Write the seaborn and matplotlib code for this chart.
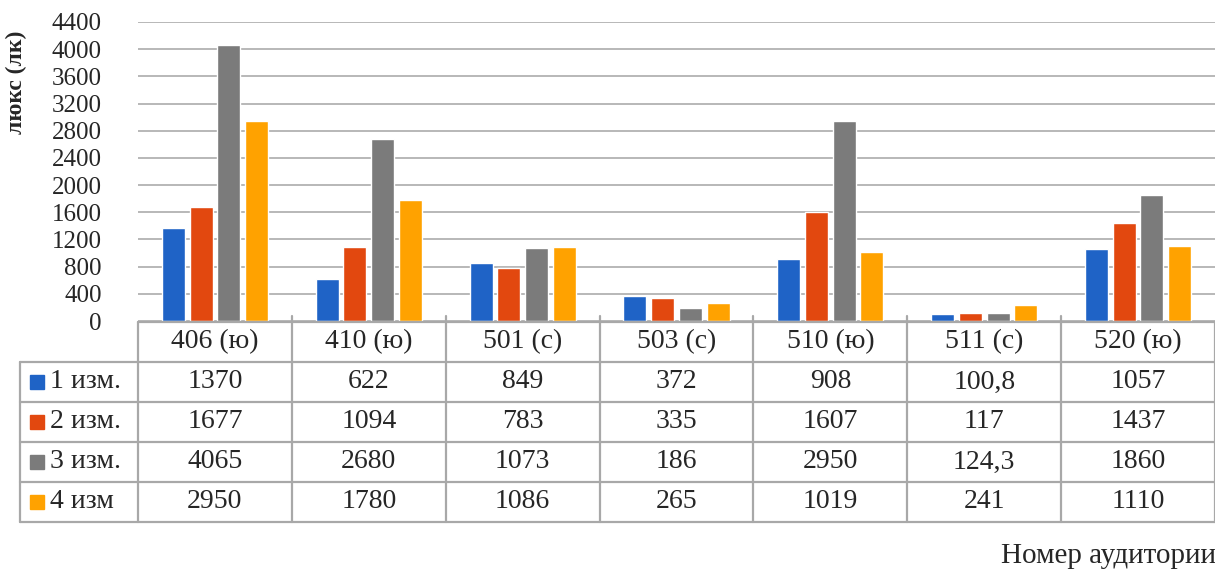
import matplotlib
matplotlib.use("Agg")
import matplotlib.pyplot as plt
import seaborn as sns
import pandas as pd
from matplotlib.patches import Rectangle

# data
rooms = ["406 (ю)", "410 (ю)", "501 (с)", "503 (с)", "510 (ю)", "511 (с)", "520 (ю)"]
series = ["1 изм.", "2 изм.", "3 изм.", "4 изм"]
izm1 = [1370, 622, 849, 372, 908, 100.8, 1057]
izm2 = [1677, 1094, 783, 335, 1607, 117, 1437]
izm3 = [4065, 2680, 1073, 186, 2950, 124.3, 1860]
izm4 = [2950, 1780, 1086, 265, 1019, 241, 1110]
colors = ["#1f63c6", "#e2480f", "#7b7b7b", "#ffa200"]
yticks = list(range(0, 4401, 400))

values = [izm1, izm2, izm3, izm4]
rows = []
for s, vals in zip(series, values):
    for r, v in zip(rooms, vals):
        rows.append({"room": r, "series": s, "lux": v})
df = pd.DataFrame(rows)

def fmt(v):
    if float(v).is_integer():
        return str(int(v))
    return str(v).replace(".", ",")

sns.set_style("white")
plt.rcParams["font.family"] = ["Liberation Serif", "DejaVu Serif"]

W, H = 1215, 572
fig = plt.figure(figsize=(W / 100, H / 100), dpi=100)

x0, x1 = 138, 1215
ytop, ybot = 22, 321
ax = fig.add_axes([x0 / W, 1 - ybot / H, (x1 - x0) / W, (ybot - ytop) / H])
sns.barplot(data=df, x="room", y="lux", hue="series", palette=colors,
            saturation=1, width=0.72, gap=0.17, ax=ax, legend=False, zorder=3)
ax.set_xlim(-0.5, len(rooms) - 0.5)
ax.set_ylim(0, 4400)
ax.set_yticks(yticks)
ax.set_yticklabels([str(t) for t in yticks], fontsize=18)
ax.tick_params(axis="y", length=0, pad=26)
ax.set_xticks([])
ax.set_xlabel("")
ax.set_ylabel("")
ax.yaxis.grid(True, color="#b8b8b8", linewidth=1.4, zorder=0)
ax.set_axisbelow(True)
for sp in ax.spines.values():
    sp.set_visible(False)

fig.text(16 / W, 1 - 82 / H, "люкс (лк)", rotation=90, fontsize=17,
         fontweight="bold", ha="center", va="center")

# data table under the chart
tb = fig.add_axes([0, 0, 1, 1], facecolor="none")
tb.set_xlim(0, W)
tb.set_ylim(H, 0)
tb.axis("off")

line_c = "#a8a8a8"
lw = 1.6
col_w = (x1 - x0) / len(rooms)
row_y = [322, 362, 402, 442, 482, 522]
leg_x = 20

# horizontal lines
tb.plot([x0, x1], [row_y[0], row_y[0]], color=line_c, lw=lw)
for y in row_y[1:]:
    tb.plot([leg_x, x1], [y, y], color=line_c, lw=lw)
# vertical lines
tb.plot([leg_x, leg_x], [row_y[1], row_y[-1]], color=line_c, lw=lw)
for i in range(len(rooms) + 1):
    xx = x0 + i * col_w
    tb.plot([xx, xx], [row_y[0] - (6 if 0 < i < len(rooms) else 0), row_y[-1]],
            color=line_c, lw=lw)

for i, r in enumerate(rooms):
    cx = x0 + (i + 0.5) * col_w
    tb.text(cx, (row_y[0] + row_y[1]) / 2, r, ha="center", va="center", fontsize=20)

for j, (s, vals, c) in enumerate(zip(series, values, colors)):
    cy = (row_y[j + 1] + row_y[j + 2]) / 2
    tb.add_patch(Rectangle((30, cy - 7), 14, 14, color=c))
    tb.text(50, cy, s, ha="left", va="center", fontsize=20)
    for i, v in enumerate(vals):
        cx = x0 + (i + 0.5) * col_w
        tb.text(cx, cy, fmt(v), ha="center", va="center", fontsize=20)

tb.text(1216, 556, "Номер аудитории", ha="right", va="center", fontsize=21)

fig.savefig("out.png", dpi=100)
